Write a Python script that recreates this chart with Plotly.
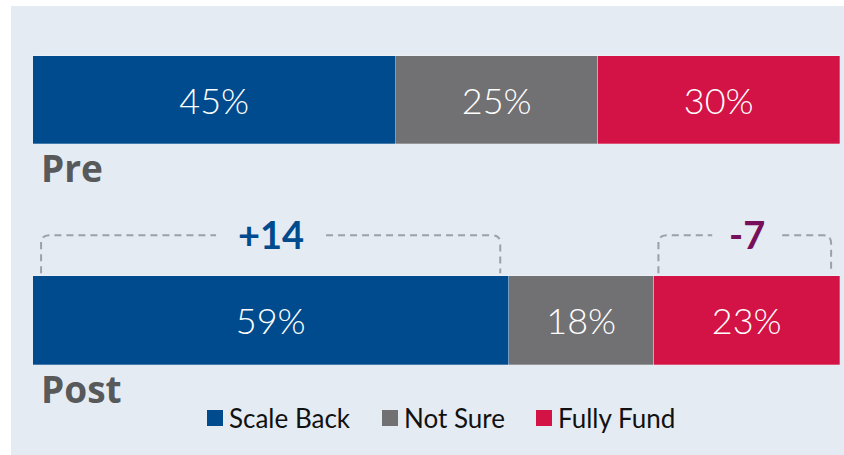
import plotly.graph_objects as go

# ---- data ----
periods = ["Pre", "Post"]
series_names = ["Scale Back", "Not Sure", "Fully Fund"]
scale_back = [45, 59]
not_sure = [25, 18]
fully_fund = [30, 23]
change_labels = ["+14", "-7"]

colors = ["#004b8d", "#717073", "#d31245"]
change_colors = ["#004b8d", "#76105b"]
bg = "#e5ebf2"

W, H = 844, 455
ML, MR, MT, MB = 33, 4, 0, 0
PW, PH = W - ML - MR, H - MT - MB

# y axis: period index; 1 unit = 220.5 px, Pre centred at 100 px
unit = 220.5
y_top = -100 / unit
y_bot = (H - 100) / unit
bar_w = 88.5 / unit

def px_x(p):  # pixel -> paper x
    return (p - ML) / PW

def px_y(p):  # pixel -> paper y
    return 1 - (p - MT) / PH

fig = go.Figure()
ypos = list(range(len(periods)))
for name, vals, c in zip(series_names, [scale_back, not_sure, fully_fund], colors):
    fig.add_trace(go.Bar(
        y=ypos, x=vals, orientation="h", name=name, width=bar_w,
        marker=dict(color=c, line=dict(width=0.6, color="rgba(255,255,255,0.45)")),
        text=[f"{v}%" for v in vals], textposition="inside",
        insidetextanchor="middle",
        textfont=dict(family="Lato", size=36, color="white", weight=300),
        showlegend=False, hoverinfo="skip",
    ))

shapes = []
annotations = []
# white frame strips (left and top) over the light panel background
shapes.append(dict(type="rect", xref="paper", yref="paper", layer="below",
                   x0=px_x(-5), x1=px_x(11), y0=px_y(470), y1=px_y(-5),
                   fillcolor="white", line=dict(width=0)))
shapes.append(dict(type="rect", xref="paper", yref="paper", layer="below",
                   x0=px_x(-5), x1=px_x(860), y0=px_y(6), y1=px_y(-5),
                   fillcolor="white", line=dict(width=0)))

# period labels
for i, p in enumerate(periods):
    annotations.append(dict(x=0, y=i + bar_w / 2, xref="x", yref="y", text=f"<b>{p}</b>",
                            showarrow=False, xanchor="left", yanchor="top", xshift=6, yshift=4,
                            font=dict(family="Open Sans", size=37, color="#58595b")))

# change brackets on the Post bar
post = 1
ry = 8 / unit
rx = 8 / PW * 100
seg_ranges = [(0, scale_back[post]), (scale_back[post] + not_sure[post], 100)]
insets = [(1.0, 1.1), (0.5, 1.1)]
for (a, b), (il, ir), lab, col in zip(seg_ranges, insets, change_labels, change_colors):
    x1, x2 = a + il, b - ir
    ytop = post - bar_w / 2 - 41 / unit
    ybot = post - bar_w / 2 - 3 / unit
    mid = (a + b) / 2
    half_gap = (55 if len(lab) > 2 else 35) / PW * 100
    path = (f"M {x1},{ybot} L {x1},{ytop + ry} Q {x1},{ytop} {x1 + rx},{ytop} L {mid - half_gap},{ytop} "
            f"M {mid + half_gap},{ytop} L {x2 - rx},{ytop} Q {x2},{ytop} {x2},{ytop + ry} L {x2},{ybot}")
    shapes.append(dict(type="path", xref="x", yref="y", path=path,
                       line=dict(color="#9ca1a7", width=2, dash="7px,5px")))
    annotations.append(dict(x=mid, y=ytop, xref="x", yref="y", text=f"<b>{lab}</b>",
                            showarrow=False, xanchor="center", yanchor="middle", yshift=1,
                            font=dict(family="Lato", size=38, color=col, weight=900)))

# legend
leg_sq_x = [207, 382, 536]
leg_y = 418
for name, c, sx in zip(series_names, colors, leg_sq_x):
    shapes.append(dict(type="rect", xref="paper", yref="paper",
                       x0=px_x(sx), x1=px_x(sx + 16), y0=px_y(leg_y + 8), y1=px_y(leg_y - 8),
                       fillcolor=c, line=dict(width=0)))
    annotations.append(dict(x=px_x(sx + 20), y=px_y(leg_y), xref="paper", yref="paper", text=name,
                            showarrow=False, xanchor="left", yanchor="middle",
                            font=dict(family="Lato", size=26, color="#111111")))

fig.update_layout(
    width=W, height=H, barmode="stack",
    margin=dict(l=ML, r=MR, t=MT, b=MB),
    paper_bgcolor=bg, plot_bgcolor="rgba(0,0,0,0)",
    xaxis=dict(range=[0, 100], visible=False, fixedrange=True),
    yaxis=dict(range=[y_bot, y_top], visible=False, fixedrange=True),
    shapes=shapes, annotations=annotations, bargap=0,
    uniformtext=dict(mode="show", minsize=10),
)
fig.write_html("out.html", config={"displayModeBar": False},
               post_script="document.body.style.margin='0';document.body.style.padding='0';"
                           "document.body.style.background='" + bg + "';")
